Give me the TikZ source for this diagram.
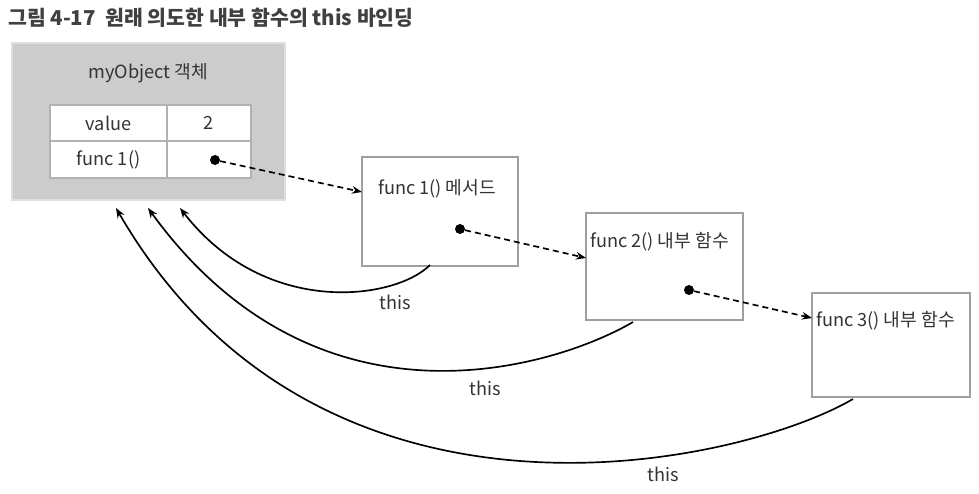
\documentclass[tikz,border=0pt]{standalone}
\usepackage{fontspec}
\setmainfont{Noto Sans CJK KR}
\usetikzlibrary{arrows.meta}

\tikzset{
  frame/.style={draw=gray!75,line width=0.5mm,fill=white},
  txt/.style={inner sep=0pt,text=black!80,font=\fontsize{15.5}{17}\selectfont},
  tip/.style={-{Stealth[length=3mm,width=2.3mm]}},
  ptr/.style={tip,dashed,dash pattern=on 1.8mm off 1.2mm,line width=0.5mm},
  back/.style={tip,line width=0.5mm},
  dot/.style={circle,fill=black,inner sep=0pt,minimum size=3mm}
}

\begin{document}
\begin{tikzpicture}[x=0.3mm,y=-0.3mm]
\useasboundingbox (0,0) rectangle (979,494);
% title
\node[txt,anchor=west,font=\fontsize{17.5}{19}\bfseries\selectfont,text=black!75] (title) at (8,18) {그림 4-17\ \ 원래 의도한 내부 함수의 this 바인딩};
% myObject
\node[draw=gray!25,line width=0.4mm,fill=gray!40,minimum width=0.3mm*273,minimum height=0.3mm*157] (obj) at (148.5,121.5) {};
\node[txt] (objname) at (148,73) {myObject 객체};
\node[frame,draw=gray!60,minimum width=0.3mm*117,minimum height=0.3mm*36] (k1) at (108.5,123) {};
\node[frame,draw=gray!60,minimum width=0.3mm*84,minimum height=0.3mm*36] (v1) at (209,123) {};
\node[frame,draw=gray!60,minimum width=0.3mm*117,minimum height=0.3mm*37] (k2) at (108.5,159.5) {};
\node[frame,draw=gray!60,minimum width=0.3mm*84,minimum height=0.3mm*37] (v2) at (209,159.5) {};
\node[txt] at (k1) {value};
\node[txt] at (v1) {2};
\node[txt] at (k2) {func 1()};
% function boxes
\node[frame,minimum width=0.3mm*156,minimum height=0.3mm*109] (fone) at (440,211.5) {};
\node[frame,minimum width=0.3mm*157,minimum height=0.3mm*107] (ftwo) at (664.5,266.5) {};
\node[frame,minimum width=0.3mm*158,minimum height=0.3mm*104] (fthree) at (891,345) {};
\node[txt,anchor=west] (fonet) at (378,189) {func 1() 메서드};
\node[txt,anchor=west] (ftwot) at (590,242) {func 2() 내부 함수};
\node[txt,anchor=west] (fthreet) at (816,321) {func 3() 내부 함수};
% pointers
\node[dot] (d0) at (215,160) {};
\node[dot] (d1) at (460,229) {};
\node[dot] (d2) at (689,290) {};
\coordinate (e1) at (362,192); \coordinate (e2) at (586,258); \coordinate (e3) at (812,318);
\draw[ptr] (d0)--(e1);
\draw[ptr] (d1)--(e2);
\draw[ptr] (d2)--(e3);
% this
\coordinate (s1) at (430,265); \coordinate (s2) at (633,322); \coordinate (s3) at (853,399);
\coordinate (t1) at (180,208); \coordinate (t2) at (148,208); \coordinate (t3) at (116,208);
\draw[back] (s1) .. controls (395,300) and (265,318) .. (t1);
\draw[back] (s2) .. controls (560,365) and (320,445) .. (t2);
\draw[back] (s3) .. controls (740,465) and (320,560) .. (t3);
\node[txt] (this1) at (395,302) {this};
\node[txt] (this2) at (485,388) {this};
\node[txt] (this3) at (663,474) {this};
\end{tikzpicture}
\end{document}
